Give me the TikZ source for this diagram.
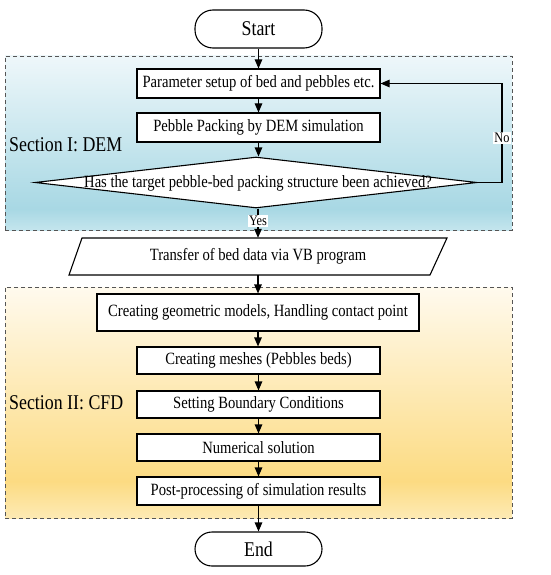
\documentclass[tikz,border=0pt]{standalone}
\usepackage{fontspec}
\setmainfont{Liberation Serif}[FakeStretch=0.85]
\usetikzlibrary{shapes.geometric,arrows.meta,calc}
\definecolor{demt}{HTML}{EEF7FA}
\definecolor{demm}{HTML}{A8D8E4}
\definecolor{demb}{HTML}{C4E5ED}
\definecolor{cfdt}{HTML}{FFFAEE}
\definecolor{cfdm}{HTML}{FCDB82}
\definecolor{cfdb}{HTML}{FDEAB4}
\definecolor{dashgray}{HTML}{555555}
\pgfdeclareverticalshading{demshade}{100bp}{color(0bp)=(demb); color(25bp)=(demb); color(31bp)=(demm); color(75bp)=(demt); color(100bp)=(demt)}
\pgfdeclareverticalshading{cfdshade}{100bp}{color(0bp)=(cfdb); color(25bp)=(cfdb); color(33bp)=(cfdm); color(75bp)=(cfdt); color(100bp)=(cfdt)}
\tikzset{
  secbox/.style={draw=dashgray, dashed, dash pattern=on 4pt off 3pt, line width=0.8pt, inner sep=0pt},
  seclabel/.style={anchor=west, inner sep=0pt, font=\fontsize{21}{24}\selectfont},
  stepbox/.style={draw, line width=1.1pt, fill=white, minimum width=243pt, minimum height=28pt, inner sep=0pt, font=\fontsize{17.2}{20}\selectfont},
  term/.style={draw, line width=1.1pt, fill=white, rounded corners=18pt, minimum width=127pt, inner sep=0pt, font=\fontsize{21}{24}\selectfont},
  txt/.style={inner sep=0pt, font=\fontsize{17.2}{20}\selectfont},
  flow/.style={line width=1.1pt, -{Triangle[length=9pt,width=7.5pt]}},
  tag/.style={fill=white, inner sep=1pt, font=\fontsize{14.5}{16}\selectfont}
}
\begin{document}
\begin{tikzpicture}[x=1pt,y=1pt]
\useasboundingbox (0,0) rectangle (550,-575);
% section backgrounds
\node (secI) [secbox, shading=demshade, minimum width=507pt, minimum height=174pt] at (258.5,-143) {};
\node (secII) [secbox, shading=cfdshade, minimum width=507pt, minimum height=231pt] at (258.5,-402.5) {};
\node (labI) [seclabel] at (9,-145) {Section I: DEM};
\node (labII) [seclabel] at (9,-403) {Section II: CFD};
% nodes
\node (start) [term, minimum height=38pt] at (258.5,-29) {Start};
\node (param) [stepbox, minimum height=29pt] at (258.5,-83.5) {Parameter setup of bed and pebbles etc.};
\node (pack) [stepbox, minimum height=29pt] at (258.5,-127.5) {Pebble Packing by DEM simulation};
\node (dia) [diamond, draw, line width=1.1pt, fill=white, minimum width=442pt, minimum height=51pt, inner sep=0pt] at (256,-182.5) {};
\node (diatxt) [txt] at (258,-183) {Has the target pebble-bed packing structure been achieved?};
\draw[line width=1.1pt, fill=white] (69,-275) -- (82,-238) -- (447,-238) -- (430,-275) -- cycle;
\node (trans) [txt, minimum height=37pt] at (258,-256.5) {Transfer of bed data via VB program};
\node (geo) [stepbox, minimum width=322pt, minimum height=37pt] at (258,-312.5) {Creating geometric models, Handling contact point};
\node (mesh) [stepbox, minimum height=27pt] at (258.5,-360.5) {Creating meshes (Pebbles beds)};
\node (bc) [stepbox, minimum height=27pt] at (258.5,-404.5) {Setting Boundary Conditions};
\node (num) [stepbox, minimum height=27pt] at (258.5,-447.5) {Numerical solution};
\node (post) [stepbox, minimum height=28pt] at (258.5,-491) {Post-processing of simulation results};
\node (end) [term, minimum height=34pt, rounded corners=17pt] at (258.5,-549) {End};
% connectors
\coordinate (loopA) at (502,-182.5);
\coordinate (loopB) at (502,-83.5);
\draw[flow] (start) -- (param);
\draw[flow] (param) -- (pack);
\draw[flow] (pack.south) -- (pack.south |- dia.north);
\draw[flow] (dia.south -| trans) -- node[tag, pos=0.42] {Yes} (trans.north);
\draw[flow] (dia.east) -- (loopA) -- node[tag, pos=0.45] {No} (loopB) -- (param.east);
\draw[flow] (trans.south) -- (trans.south |- geo.north);
\draw[flow] (geo.south) -- (geo.south |- mesh.north);
\draw[flow] (mesh) -- (bc);
\draw[flow] (bc) -- (num);
\draw[flow] (num) -- (post);
\draw[flow] (post.south) -- (post.south |- end.north);
\end{tikzpicture}
\end{document}
